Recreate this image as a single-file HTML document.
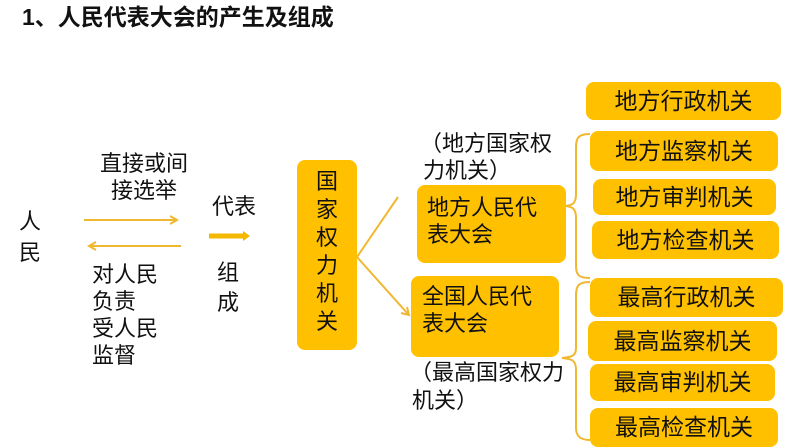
<!DOCTYPE html>
<html><head><meta charset="utf-8"><style>
body{margin:0;width:794px;height:447px;background:#fff;position:relative;overflow:hidden;font-family:"Liberation Sans","Noto Sans CJK SC",sans-serif;color:#111}
.t{position:absolute;font-size:22px;line-height:27px;white-space:nowrap}
.b{position:absolute;background:#FFC000;border-radius:8px;font-size:22px;line-height:27px;box-sizing:border-box;white-space:nowrap}
.c{display:flex;align-items:center;justify-content:center;font-size:23px}
svg{position:absolute;left:0;top:0}
</style></head><body>
<div class="t" style="left:22px;top:4px;font-weight:bold;font-size:23px">1、人民代表大会的产生及组成</div>
<div class="t" style="left:19px;top:206px;line-height:31px">人<br>民</div>
<div class="t" style="left:100px;top:150px">直接或间</div>
<div class="t" style="left:111px;top:177px">接选举</div>
<div class="t" style="left:212px;top:193px">代表</div>
<div class="t" style="left:217px;top:258px;line-height:30px">组<br>成</div>
<div class="t" style="left:92px;top:261px">对人民<br>负责<br>受人民<br>监督</div>
<div class="b" style="left:297px;top:160px;width:60px;height:190px;padding-top:8px;text-align:center;line-height:28px">国<br>家<br>权<br>力<br>机<br>关</div>
<div class="t" style="left:420px;top:130px">（地方国家权</div>
<div class="t" style="left:423px;top:157px">力机关）</div>
<div class="b" style="left:417px;top:185px;width:149px;height:78px;padding:9px 0 0 10px">地方人民代<br>表大会</div>
<div class="b" style="left:411px;top:276px;width:148px;height:81px;padding:7px 0 0 11px">全国人民代<br>表大会</div>
<div class="t" style="left:410px;top:359px">（最高国家权力</div>
<div class="t" style="left:412px;top:387px">机关）</div>
<div class="b c" style="left:586px;top:82px;width:195px;height:38px">地方行政机关</div>
<div class="b c" style="left:590px;top:131px;width:188px;height:40px">地方监察机关</div>
<div class="b c" style="left:593px;top:179px;width:183px;height:36px">地方审判机关</div>
<div class="b c" style="left:592px;top:221px;width:187px;height:38px">地方检查机关</div>
<div class="b c" style="left:590px;top:278px;width:193px;height:39px">最高行政机关</div>
<div class="b c" style="left:588px;top:321px;width:189px;height:40px">最高监察机关</div>
<div class="b c" style="left:590px;top:364px;width:185px;height:37px">最高审判机关</div>
<div class="b c" style="left:590px;top:408px;width:188px;height:39px">最高检查机关</div>
<svg width="794" height="447" fill="none" stroke="#F0B830" stroke-width="2">
<line x1="84" y1="220" x2="176" y2="220"/><polyline points="170,216 177,220 170,224"/>
<line x1="90" y1="246" x2="181" y2="246"/><polyline points="96,242 89,246 96,250"/>
<line x1="209" y1="236" x2="243" y2="236" stroke="#F5B800" stroke-width="5"/><polygon points="243,231 250,236 243,241" fill="#F5B800" stroke="none"/>
<line x1="357" y1="257" x2="398" y2="197"/>
<line x1="357" y1="257" x2="408" y2="314"/><polyline points="401,313 409,315 407,307"/>
<path d="M590,134 C576,134 576,140 576,150 L576,194 C576,204 572,205 566,206 C572,207 576,208 576,218 L576,266 C576,276 580,278 590,278"/>
<path d="M590,282 C576,282 576,288 576,298 L576,348 C576,356 572,357 562,358 C572,359 576,360 576,370 L576,428 C576,436 580,440 590,440"/>
</svg>
</body></html>
